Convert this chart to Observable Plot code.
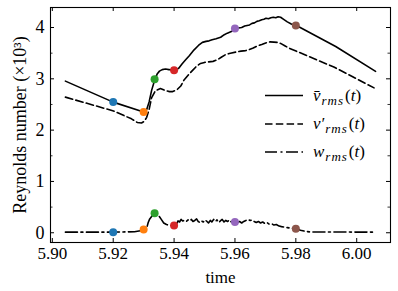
<!DOCTYPE html>
<html><head><meta charset="utf-8">
<script src="https://cdn.jsdelivr.net/npm/d3@7"></script>
<script src="https://cdn.jsdelivr.net/npm/@observablehq/plot@0.6"></script>
<style>body{margin:0;background:#fff;font-family:'Liberation Serif'} #chart{width:398px;height:291px}</style>
</head><body><div id="chart"></div>
<script>
// ---- data ----
const vbarT = [5.9043,5.9200,5.9300,5.9310,5.9318,5.9326,5.9337,5.9345,5.9352,5.9361,5.9372,5.9383,5.9392,5.9400,5.9408,5.9416,5.9426,5.9438,5.9450,5.9465,5.9480,5.9493,5.9505,5.9515,5.9525,5.9538,5.9553,5.9565,5.9575,5.9588,5.9602,5.9612,5.9622,5.9632,5.9640,5.9648,5.9656,5.9664,5.9672,5.9680,5.9688,5.9695,5.9702,5.9710,5.9718,5.9726,5.9734,5.9742,5.9750,5.9760,5.9772,5.9785,5.9802,5.9931,6.0062];
const vbarV = [2.955,2.546,2.355,2.40,2.55,2.77,2.99,3.10,3.15,3.18,3.19,3.18,3.17,3.165,3.18,3.21,3.29,3.37,3.45,3.56,3.65,3.71,3.73,3.74,3.76,3.78,3.81,3.86,3.89,3.92,3.98,3.99,4.00,4.03,4.04,4.05,4.08,4.09,4.12,4.13,4.15,4.16,4.18,4.17,4.19,4.20,4.19,4.21,4.20,4.16,4.11,4.07,4.04,3.63,3.144];

const vprimeT = [5.9043,5.9201,5.9260,5.9279,5.9293,5.9302,5.9310,5.9318,5.9326,5.9339,5.9355,5.9372,5.9385,5.9394,5.9410,5.9422,5.9432,5.9446,5.9460,5.9473,5.9487,5.9500,5.9514,5.9528,5.9542,5.9555,5.9569,5.9585,5.9602,5.9620,5.9635,5.9646,5.9660,5.9673,5.9688,5.9701,5.9715,5.9728,5.9740,5.9750,5.9765,5.9777,5.9925,6.0057];
const vprimeV = [2.643,2.374,2.22,2.15,2.14,2.17,2.25,2.40,2.63,2.77,2.81,2.77,2.75,2.75,2.79,2.86,2.97,3.07,3.16,3.24,3.30,3.32,3.33,3.34,3.37,3.42,3.47,3.50,3.52,3.54,3.55,3.57,3.60,3.64,3.67,3.70,3.72,3.715,3.71,3.69,3.64,3.60,3.23,2.823];

const wT = [5.9043,5.9200,5.9270,5.9290,5.9303,5.9310,5.9315,5.9320,5.9328,5.9337,5.9343,5.9350,5.9358,5.9366,5.9375,5.9383,5.9392,5.9400,5.9408,5.9413,5.9418,5.9423,5.9428,5.9434,5.9440,5.9446,5.9451,5.9457,5.9462,5.9468,5.9474,5.9479,5.9485,5.9490,5.9496,5.9502,5.9508,5.9513,5.9519,5.9524,5.9530,5.9536,5.9541,5.9547,5.9552,5.9558,5.9564,5.9570,5.9576,5.9582,5.9588,5.9594,5.9600,5.9608,5.9615,5.9622,5.9629,5.9636,5.9643,5.9650,5.9657,5.9663,5.9670,5.9677,5.9684,5.9691,5.9698,5.9705,5.9712,5.9720,5.9728,5.9736,5.9745,5.9753,5.9762,5.9772,5.9782,5.9792,5.9803,5.9815,5.9832,5.9850,6.0062];
const wV = [0.012,0.012,0.02,0.04,0.065,0.09,0.20,0.27,0.33,0.38,0.37,0.33,0.26,0.19,0.16,0.145,0.14,0.142,0.17,0.23,0.21,0.26,0.23,0.24,0.22,0.25,0.23,0.26,0.22,0.24,0.27,0.22,0.20,0.23,0.21,0.25,0.22,0.19,0.24,0.21,0.26,0.22,0.25,0.20,0.23,0.26,0.21,0.24,0.22,0.25,0.21,0.23,0.21,0.20,0.22,0.19,0.22,0.24,0.26,0.24,0.25,0.22,0.20,0.22,0.19,0.21,0.18,0.20,0.17,0.18,0.15,0.16,0.13,0.12,0.11,0.10,0.09,0.085,0.08,0.05,0.025,0.015,0.012];

const dotT = [5.92, 5.93, 5.9336, 5.94, 5.96, 5.98];
const dotVbar = [2.55, 2.355, 2.99, 3.165, 3.98, 4.04];
const dotW = [0.012, 0.065, 0.38, 0.142, 0.21, 0.08];
const dotColors = ["#1f77b4", "#ff7f0e", "#2ca02c", "#d62728", "#9467bd", "#8c564b"];

const xTicks = [5.90, 5.92, 5.94, 5.96, 5.98, 6.00];
const yTicks = [0, 1, 2, 3, 4];
const yMinor = [0.5, 1.5, 2.5, 3.5];

const legendLabels = ["vbar", "vprime", "w"];

// ---- layout ----
const W = 398, H = 291, mL = 50, mR = 8, mT = 7, mB = 49;
const innerW = W - mL - mR, innerH = H - mT - mB;
const FONT = "'Liberation Serif'";
const rows = (T, V) => T.map((t, i) => ({t, v: V[i]}));
const dotRows = (V) => dotT.map((t, i) => ({t, v: V[i], c: dotColors[i]}));

const plot = Plot.plot({
  width: W, height: H,
  marginLeft: mL, marginRight: mR, marginTop: mT, marginBottom: mB,
  style: {fontSize: "17px", background: "white", color: "black", overflow: "visible"},
  x: {domain: [5.8994, 6.0111]},
  y: {domain: [-0.19, 4.39]},
  color: {type: "identity"},
  marks: [
    Plot.line(rows(vbarT, vbarV), {x: "t", y: "v", stroke: "black", strokeWidth: 1.6}),
    Plot.line(rows(vprimeT, vprimeV), {x: "t", y: "v", stroke: "black", strokeWidth: 1.6, strokeDasharray: "7.5,3.3"}),
    Plot.line(rows(wT, wV), {x: "t", y: "v", stroke: "black", strokeWidth: 1.6, strokeDasharray: "12,3.5,2,3.5"}),
    Plot.dot(dotRows(dotVbar), {x: "t", y: "v", r: 4, fill: "c", stroke: null}),
    Plot.dot(dotRows(dotW), {x: "t", y: "v", r: 4, fill: "c", stroke: null}),
    Plot.frame({stroke: "black", strokeWidth: 1.1}),
    Plot.tickX(xTicks, {x: d => d, insetTop: innerH - 4, stroke: "black", strokeWidth: 1}),
    Plot.tickX(xTicks, {x: d => d, insetBottom: innerH - 4, stroke: "black", strokeWidth: 1}),
    Plot.tickY(yTicks, {y: d => d, insetRight: innerW - 4, stroke: "black", strokeWidth: 1}),
    Plot.tickY(yTicks, {y: d => d, insetLeft: innerW - 4, stroke: "black", strokeWidth: 1}),
    Plot.tickY(yMinor, {y: d => d, insetRight: innerW - 2.5, stroke: "black", strokeWidth: 0.8}),
    Plot.tickY(yMinor, {y: d => d, insetLeft: innerW - 2.5, stroke: "black", strokeWidth: 0.8}),
    Plot.axisX(xTicks, {tickSize: 0, tickPadding: 4, tickFormat: d => d.toFixed(2), label: "time", labelAnchor: "center", labelArrow: "none", labelOffset: 40}),
    Plot.axisY(yTicks, {tickSize: 0, tickPadding: 6, tickFormat: d => String(d), label: "Reynolds number (×10³)", labelAnchor: "center", labelArrow: "none", labelOffset: 37, fontSize: 18})
  ]
});
document.getElementById("chart").appendChild(plot);

// ---- legend (inside the plot area, upper right) ----
const svg = d3.select(plot);
const lg = svg.append("g").attr("font-size", 17).attr("fill", "black").attr("text-anchor", "start");
const dashes = [null, "7.5,3.3", "12,3.5,2,3.5"];
const lineX1 = 265, lineX2 = 303, textX = 313, rowY = [95.5, 124, 152];
legendLabels.forEach((name, i) => {
  const y = rowY[i];
  lg.append("line").attr("x1", lineX1).attr("x2", lineX2).attr("y1", y).attr("y2", y)
    .attr("stroke", "black").attr("stroke-width", 1.6).attr("stroke-dasharray", dashes[i]);
  const t = lg.append("text").attr("x", textX).attr("y", y + 5).attr("text-anchor", "start");
  if (name === "vbar") {
    t.append("tspan").attr("font-style", "italic").text("v\u0304");
  } else if (name === "vprime") {
    t.append("tspan").attr("font-style", "italic").text("v\u2032");
  } else {
    t.append("tspan").attr("font-style", "italic").text("w");
  }
  t.append("tspan").attr("font-style", "italic").attr("font-size", 13).attr("letter-spacing", 1).attr("dy", 4).attr("dx", 1).text("rms");
  t.append("tspan").attr("dy", -4).attr("dx", 1).text("(");
  t.append("tspan").attr("font-style", "italic").text("t");
  t.append("tspan").text(")");
});

// serif face on every text of the figure
svg.attr("font-family", "Liberation Serif").style("font-family", FONT);
svg.selectAll("text, tspan").attr("font-family", "Liberation Serif").style("font-family", FONT);
</script>
</body></html>
